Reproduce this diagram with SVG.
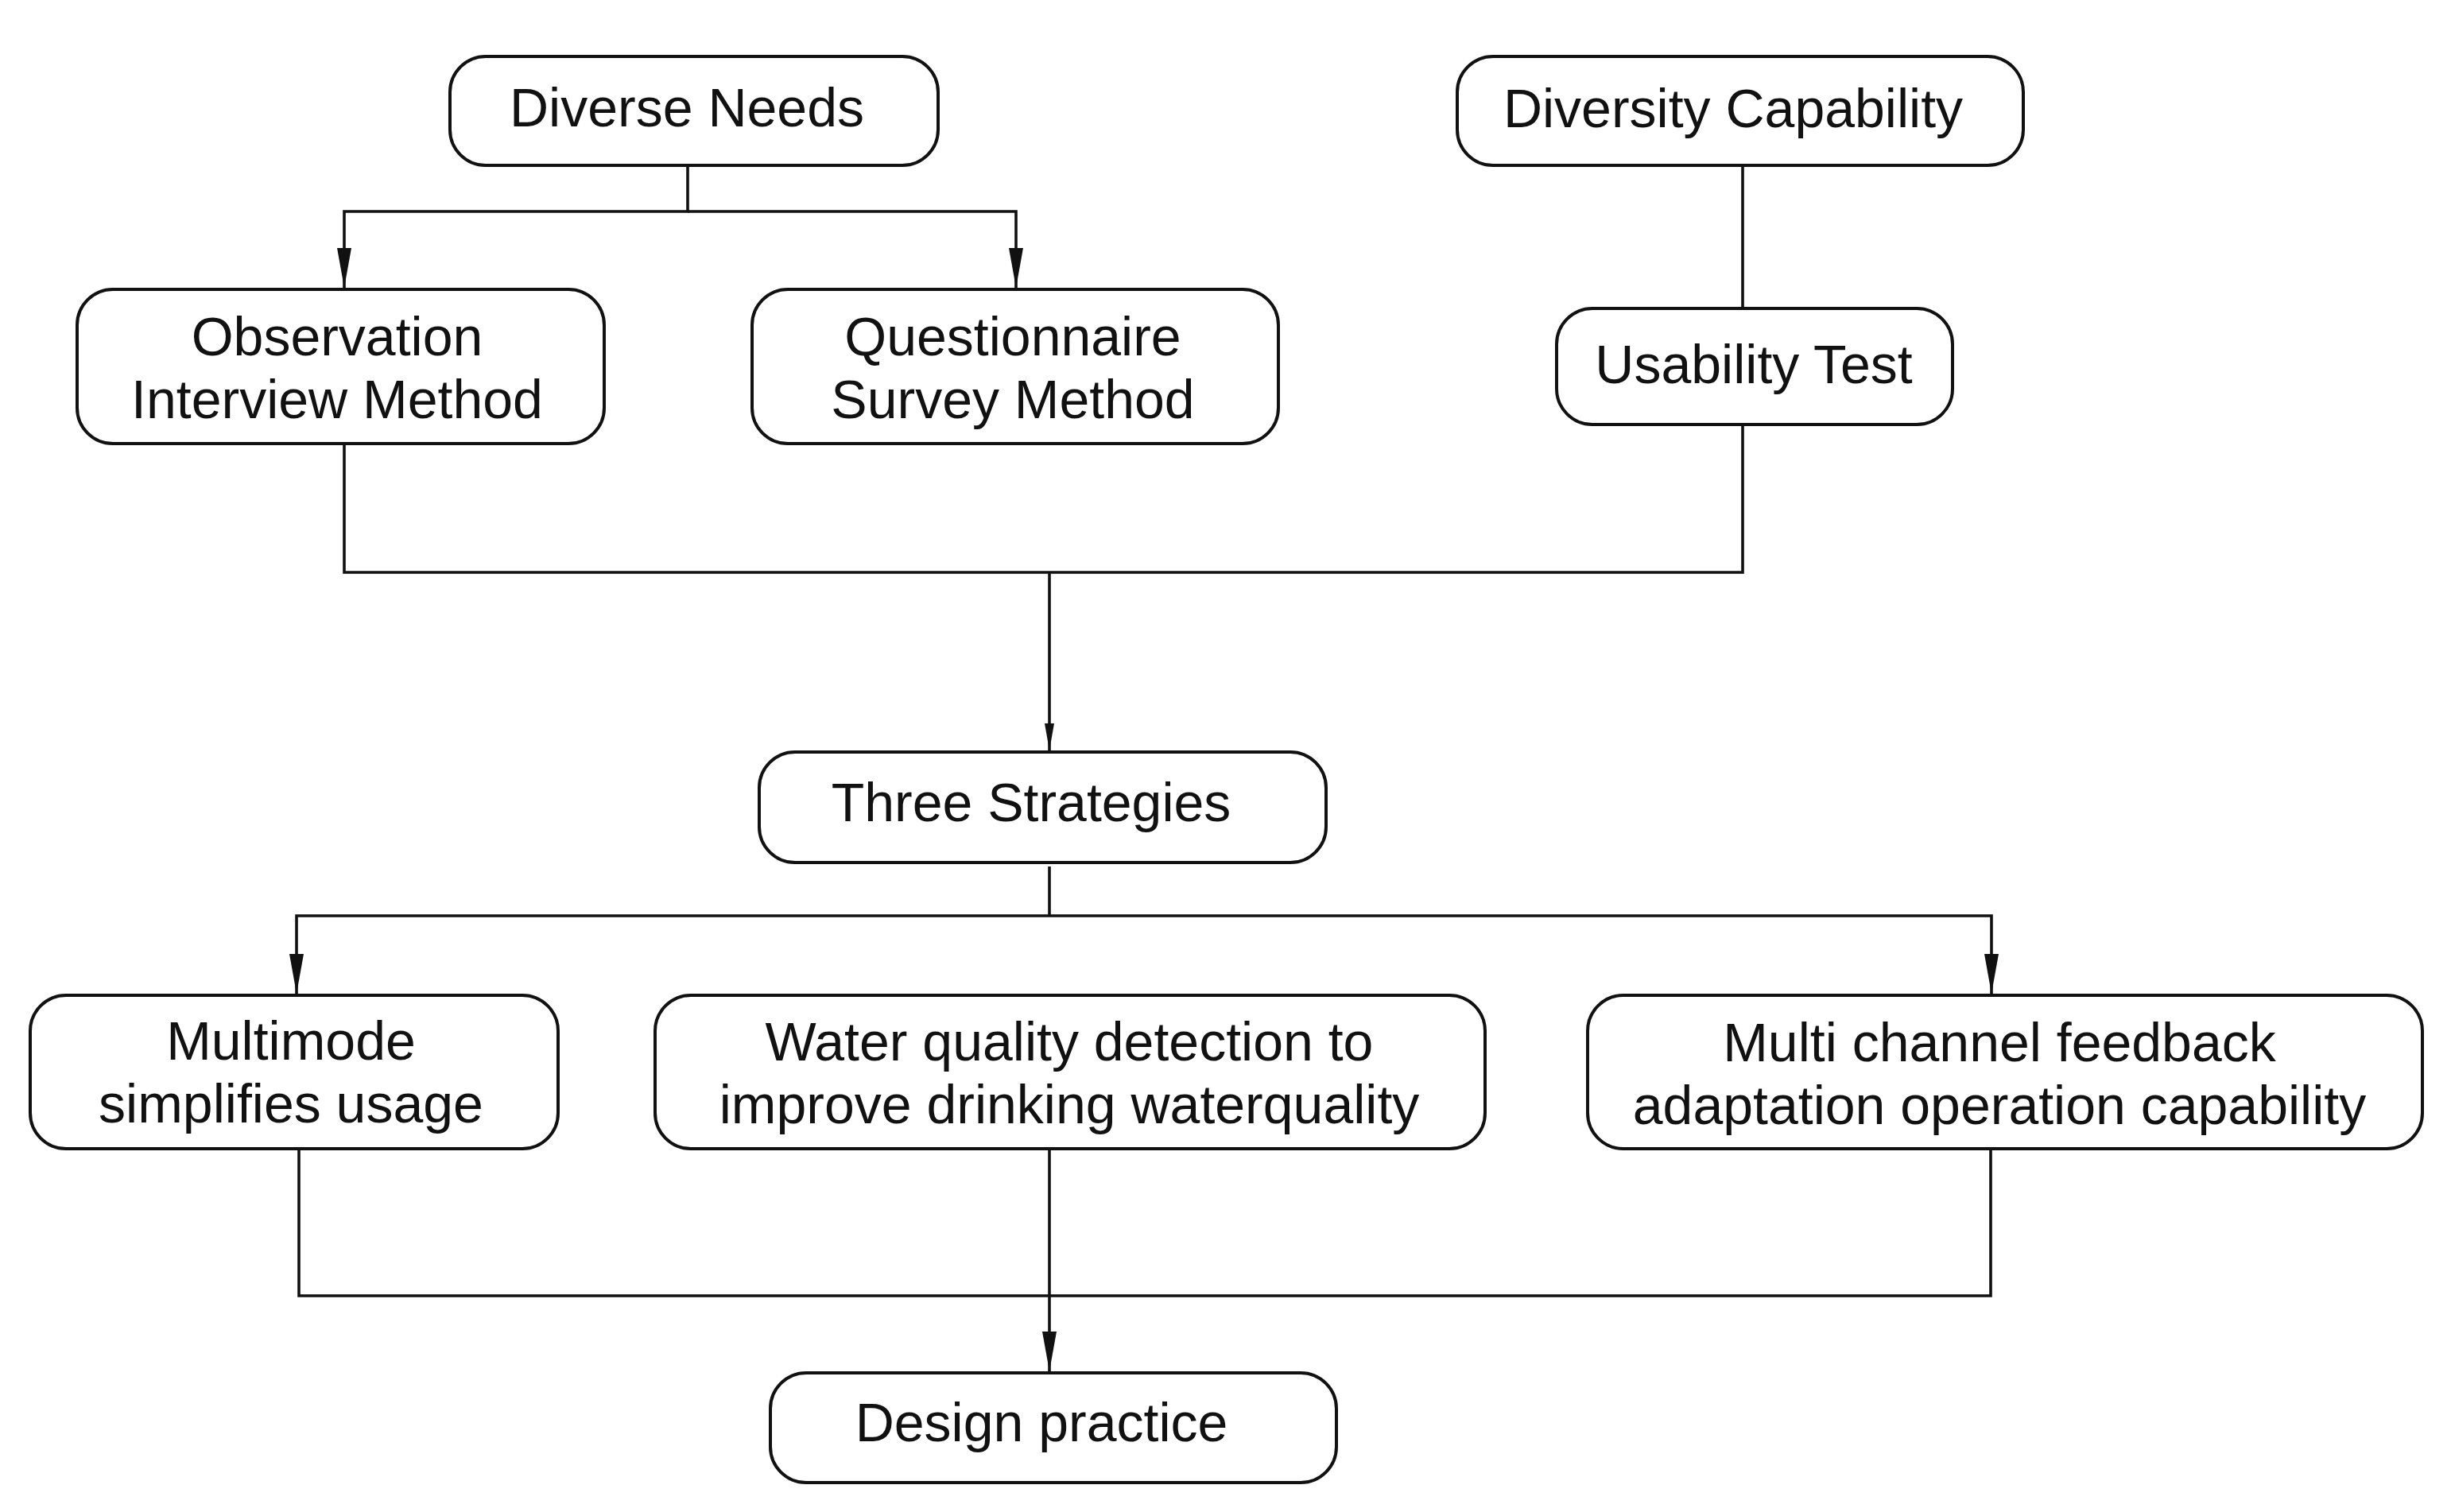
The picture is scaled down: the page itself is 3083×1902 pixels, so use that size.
<svg xmlns="http://www.w3.org/2000/svg" width="3083" height="1902" viewBox="0 0 3083 1902">
<style>
.box{fill:#fff;stroke:#111;stroke-width:4}
.t{font-family:"Liberation Sans",Arial,sans-serif;font-size:68px;fill:#111;text-anchor:middle}
.c{fill:none;stroke:#111;stroke-width:3.6}
</style>
<defs>
<marker id="ah" markerUnits="userSpaceOnUse" markerWidth="50" markerHeight="18" refX="50" refY="9" orient="auto">
<path d="M0,0 L50,9 L0,18 z" fill="#111"/>
</marker>
<marker id="ahs" markerUnits="userSpaceOnUse" markerWidth="34" markerHeight="12" refX="34" refY="6" orient="auto">
<path d="M0,0 L34,6 L0,12 z" fill="#111"/>
</marker>
</defs>
<rect width="3083" height="1902" fill="#fff"/>
<g id="connectors">
<path class="c" d="M865,208 V266 H433 V362" marker-end="url(#ah)"/>
<path class="c" d="M865,266 H1278 V362" marker-end="url(#ah)"/>
<path class="c" d="M2192,208 V388"/>
<path class="c" d="M2192,536 V720 H433 V558"/>
<path class="c" d="M1320,720 V944" stroke-width="4.5" marker-end="url(#ahs)"/>
<path class="c" d="M1320,1090 V1152"/>
<path class="c" d="M1320,1152 H373 V1250" marker-end="url(#ah)"/>
<path class="c" d="M1320,1152 H2505 V1250" marker-end="url(#ah)"/>
<path class="c" d="M376,1445 V1630 H2504 V1445"/>
<path class="c" d="M1320,1445 V1725" marker-end="url(#ah)"/>
</g>
<g id="n-diverse-needs">
<rect class="box" x="566" y="71" width="614" height="137" rx="45"/>
<text class="t" x="864" y="159">Diverse Needs</text>
</g>
<g id="n-diversity-capability">
<rect class="box" x="1833" y="71" width="712" height="137" rx="45"/>
<text class="t" x="2180" y="160">Diversity Capability</text>
</g>
<g id="n-observation">
<rect class="box" x="97" y="364" width="663" height="194" rx="45"/>
<text class="t" x="424" y="447">Observation</text>
<text class="t" x="424" y="526">Interview Method</text>
</g>
<g id="n-questionnaire">
<rect class="box" x="946" y="364" width="662" height="194" rx="45"/>
<text class="t" x="1274" y="447">Questionnaire</text>
<text class="t" x="1274" y="526">Survey Method</text>
</g>
<g id="n-usability">
<rect class="box" x="1958" y="388" width="498" height="146" rx="45"/>
<text class="t" x="2206" y="482">Usability Test</text>
</g>
<g id="n-three-strategies">
<rect class="box" x="955" y="946" width="713" height="139" rx="45"/>
<text class="t" x="1297" y="1033">Three Strategies</text>
</g>
<g id="n-multimode">
<rect class="box" x="38" y="1252" width="664" height="193" rx="45"/>
<text class="t" x="366" y="1333">Multimode</text>
<text class="t" x="366" y="1412">simplifies usage</text>
</g>
<g id="n-water-quality">
<rect class="box" x="824" y="1252" width="1044" height="193" rx="45"/>
<text class="t" x="1345" y="1334">Water quality detection to</text>
<text class="t" x="1345" y="1413">improve drinking waterquality</text>
</g>
<g id="n-multi-channel">
<rect class="box" x="1997" y="1252" width="1050" height="193" rx="45"/>
<text class="t" x="2515" y="1335">Multi channel feedback</text>
<text class="t" x="2515" y="1414">adaptation operation capability</text>
</g>
<g id="n-design-practice">
<rect class="box" x="969" y="1727" width="712" height="138" rx="45"/>
<text class="t" x="1310" y="1813">Design practice</text>
</g>
</svg>
